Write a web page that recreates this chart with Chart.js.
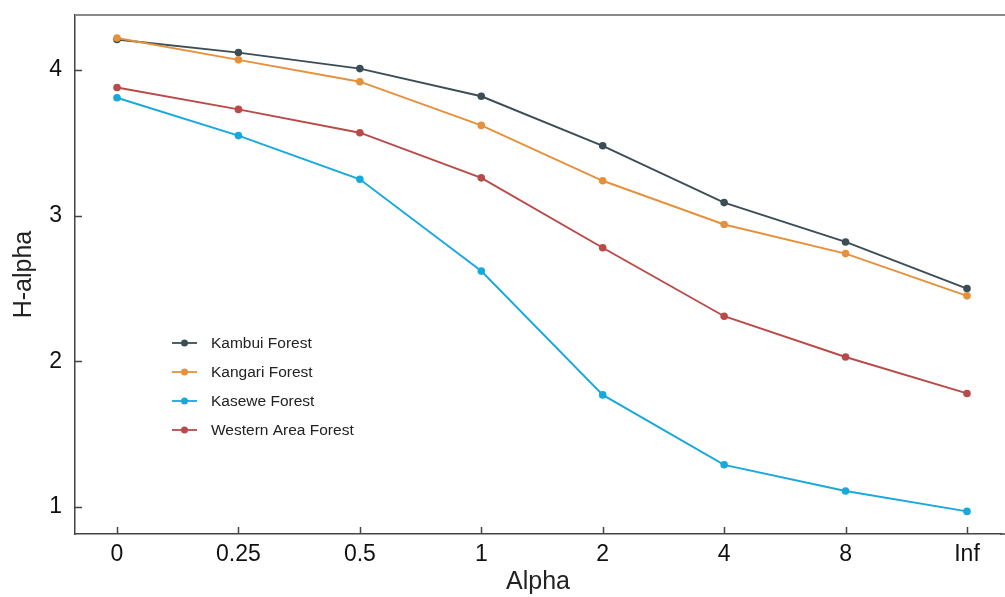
<!DOCTYPE html>
<html>
<head>
<meta charset="utf-8">
<title>H-alpha by Alpha</title>
<script src="https://cdn.jsdelivr.net/npm/chart.js@4/dist/chart.umd.min.js"></script>
<style>
  html, body { margin: 0; padding: 0; background: #fff; }
  #wrap { width: 1005px; height: 597px; position: relative; }
</style>
</head>
<body>
<div id="wrap"><canvas id="chart"></canvas></div>
<script>
// tick labels for the x axis (alpha orders)
const alphaLabels = ['0', '0.25', '0.5', '1', '2', '4', '8', 'Inf'];
const yTicks = [1, 2, 3, 4];

// H-alpha values
const kambui  = [4.21, 4.12, 4.01, 3.82, 3.48, 3.09, 2.82, 2.50];
const kangari = [4.22, 4.07, 3.92, 3.62, 3.24, 2.94, 2.74, 2.45];
const kasewe  = [3.81, 3.55, 3.25, 2.62, 1.77, 1.29, 1.11, 0.97];
const western = [3.88, 3.73, 3.57, 3.26, 2.78, 2.31, 2.03, 1.78];

const seriesNames = ['Kambui Forest', 'Kangari Forest', 'Kasewe Forest', 'Western Area Forest'];
const seriesData = [kambui, kangari, kasewe, western];
const seriesColors = ['#3b4e56', '#e5913c', '#17a9dc', '#b94a48'];
const drawOrder = [2, 1, 4, 3];

const FONT = "'Liberation Sans', Arial, Helvetica, sans-serif";

const toPoints = vals => vals.map((v, i) => ({x: i, y: v}));

// inward tick marks, frame lines running to the edge, and the legend inside the plot
const extras = {
    id: 'extras',
    afterDraw(chart) {
        const ctx = chart.ctx;
        const area = chart.chartArea;
        const xs = chart.scales.x, ys = chart.scales.y;
        ctx.save();
        ctx.strokeStyle = '#444';
        ctx.lineWidth = 1.5;
        ctx.beginPath();
        alphaLabels.forEach((l, i) => {
            const px = Math.round(xs.getPixelForValue(i)) + 0.5;
            ctx.moveTo(px, area.bottom);
            ctx.lineTo(px, area.bottom - 7);
        });
        yTicks.forEach(v => {
            const py = Math.round(ys.getPixelForValue(v)) + 0.5;
            ctx.moveTo(area.left, py);
            ctx.lineTo(area.left + 7, py);
        });
        // bottom axis carries on to the right edge
        ctx.moveTo(area.right - 1, area.bottom);
        ctx.lineTo(chart.width, area.bottom);
        ctx.stroke();

        ctx.strokeStyle = '#8a8a8a';
        ctx.lineWidth = 2;
        ctx.beginPath();
        ctx.moveTo(area.left, area.top);
        ctx.lineTo(chart.width, area.top);
        ctx.stroke();

        // legend
        ctx.font = '15.5px ' + FONT;
        ctx.textBaseline = 'middle';
        ctx.textAlign = 'left';
        seriesNames.forEach((name, i) => {
            const y = 343 + i * 29;
            ctx.strokeStyle = seriesColors[i];
            ctx.lineWidth = 1.8;
            ctx.beginPath();
            ctx.moveTo(172, y);
            ctx.lineTo(197, y);
            ctx.stroke();
            ctx.fillStyle = seriesColors[i];
            ctx.beginPath();
            ctx.arc(184.5, y, 3.5, 0, Math.PI * 2);
            ctx.fill();
            ctx.fillStyle = '#222';
            ctx.fillText(name, 211, y + 1);
        });
        ctx.restore();
    }
};

let ctx = document.getElementById('chart').getContext('2d');
let chart = new Chart(ctx, {
    type: 'line',
    data: {
        datasets: seriesNames.map((name, i) => ({
            label: name,
            data: toPoints(seriesData[i]),
            borderColor: seriesColors[i],
            backgroundColor: seriesColors[i],
            borderWidth: 1.9,
            pointRadius: 3.8,
            pointBorderWidth: 0,
            tension: 0,
            order: drawOrder[i]
        }))
    },
    options: {
        responsive: true,
        maintainAspectRatio: false,
        devicePixelRatio: 1,
        animation: false,
        layout: { padding: { top: 15, right: 0, left: 0, bottom: 0 } },
        plugins: {
            legend: { display: false },
            tooltip: { enabled: false }
        },
        scales: {
            x: {
                type: 'linear',
                min: -0.346,
                max: 7.28,
                afterBuildTicks: scale => { scale.ticks = alphaLabels.map((l, i) => ({value: i})); },
                afterFit: scale => {
                    scale.height = 63;
                    scale.paddingLeft = 0;
                    scale.paddingRight = 0;
                },
                grid: { drawOnChartArea: false, drawTicks: false },
                border: { display: true, color: '#444', width: 1.5 },
                ticks: {
                    callback: v => alphaLabels[v],
                    autoSkip: false,
                    maxRotation: 0,
                    padding: 7,
                    color: '#111',
                    font: { family: FONT, size: 23 }
                },
                title: {
                    display: true,
                    text: 'Alpha',
                    color: '#222',
                    font: { family: FONT, size: 25 },
                    padding: { top: 0, bottom: 0 }
                }
            },
            y: {
                min: 0.815,
                max: 4.378,
                afterBuildTicks: scale => { scale.ticks = yTicks.map(v => ({value: v})); },
                afterFit: scale => {
                    scale.width = 75;
                    scale.paddingTop = 0;
                    scale.paddingBottom = 0;
                },
                grid: { drawOnChartArea: false, drawTicks: false },
                border: { display: true, color: '#444', width: 1.5 },
                ticks: {
                    padding: 13,
                    color: '#111',
                    font: { family: FONT, size: 23 }
                },
                title: {
                    display: true,
                    text: 'H-alpha',
                    color: '#222',
                    font: { family: FONT, size: 25 },
                    padding: { top: 9, bottom: 0 }
                }
            }
        }
    },
    plugins: [extras]
});
</script>
</body>
</html>
